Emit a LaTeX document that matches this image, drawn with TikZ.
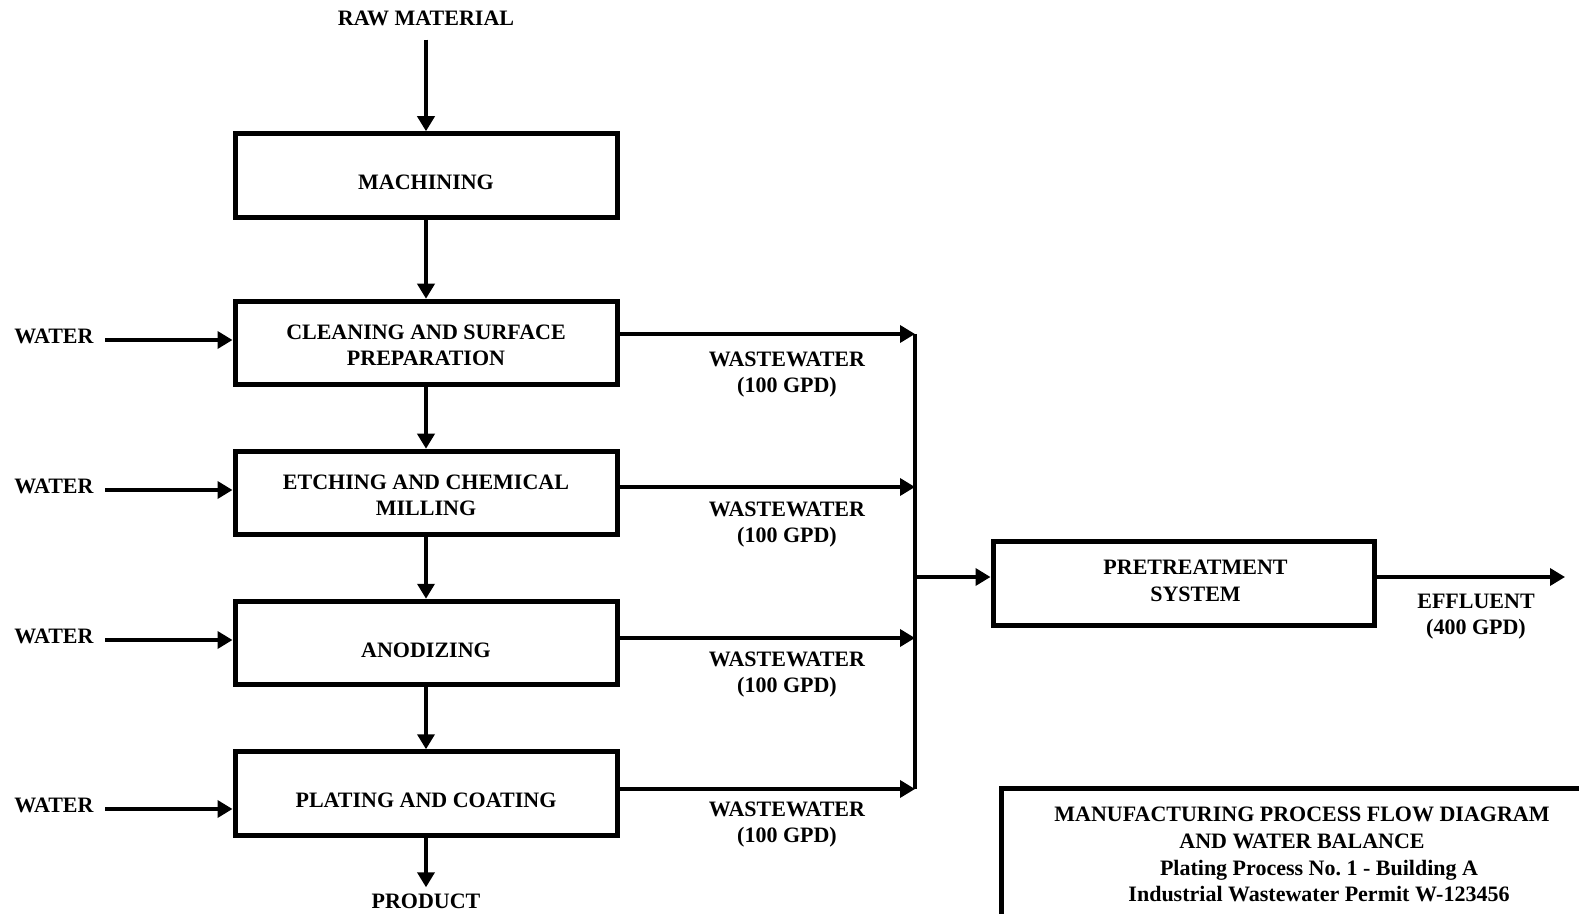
\documentclass[tikz,border=0pt]{standalone}
\usepackage{fontspec}
\setmainfont{Liberation Serif}
\usetikzlibrary{arrows.meta,calc}
\begin{document}
\begin{tikzpicture}[x=0.5pt,y=-0.5pt,
  txt/.style={font=\bfseries\fontsize{11pt}{13.25pt}\selectfont},
  lbl/.style={txt, inner sep=0pt, align=center, text height=7.3pt, text depth=0pt},
  lbl2/.style={lbl, text height=20.55pt, text depth=0pt},
  procbox/.style={txt, draw, line width=2.5pt, minimum width=191pt, minimum height=41.75pt,
    inner sep=0pt, align=center, text height=14.3pt, text depth=0pt},
  procbox2/.style={procbox, text height=22.55pt, text depth=0pt},
  flow/.style={line width=1.8pt, -{Triangle[length=7.5pt,width=8.5pt]}},
  pipe/.style={line width=1.8pt},
]
\useasboundingbox (0,0) rectangle (1579,914);

% main process column
\node[lbl] (raw) at (426,18) {RAW MATERIAL};
\node[procbox] (mach) at (426,175.5) {MACHINING};
\node[procbox2] (clean) at (426,343) {CLEANING AND SURFACE\\PREPARATION};
\node[procbox2] (etch) at (426,493) {ETCHING AND CHEMICAL\\MILLING};
\node[procbox] (anod) at (426,643) {ANODIZING};
\node[procbox] (plat) at (426,793.5) {PLATING AND COATING};
\node[lbl] (prod) at (426,901) {PRODUCT};

\draw[flow] ([yshift=-7pt]raw.south) -- (mach.north);
\draw[flow] (mach) -- (clean);
\draw[flow] (clean) -- (etch);
\draw[flow] (etch) -- (anod);
\draw[flow] (anod) -- (plat);
\draw[flow] (plat.south) -- ([yshift=3pt]prod.north);

% water inputs
\node[lbl] (w1) at (54,336) {WATER};
\node[lbl] (w2) at (54,486) {WATER};
\node[lbl] (w3) at (54,636) {WATER};
\node[lbl] (w4) at (54,805) {WATER};
\coordinate (wa1) at (105,340);
\coordinate (wa2) at (105,490);
\coordinate (wa3) at (105,640);
\coordinate (wa4) at (105,809);
\draw[flow] (wa1) -- (wa1 -| clean.west);
\draw[flow] (wa2) -- (wa2 -| etch.west);
\draw[flow] (wa3) -- (wa3 -| anod.west);
\draw[flow] (wa4) -- (wa4 -| plat.west);

% wastewater outputs
\coordinate (j1) at (915,334);
\coordinate (j2) at (915,487);
\coordinate (j3) at (915,638);
\coordinate (j4) at (915,789);
\draw[flow] (j1 -| clean.east) -- (j1);
\draw[flow] (j2 -| etch.east) -- (j2);
\draw[flow] (j3 -| anod.east) -- (j3);
\draw[flow] (j4 -| plat.east) -- (j4);
\draw[pipe] (j1) -- (j4);

\node[lbl2] (ww1) at (787,372) {WASTEWATER\\(100 GPD)};
\node[lbl2] (ww2) at (787,522) {WASTEWATER\\(100 GPD)};
\node[lbl2] (ww3) at (787,672) {WASTEWATER\\(100 GPD)};
\node[lbl2] (ww4) at (787,822) {WASTEWATER\\(100 GPD)};

% pretreatment
\node[procbox, minimum width=190.5pt] (pre) at (1183.5,583.5) {};
\node[lbl2] (pretxt) at (1195.5,580.5) {PRETREATMENT\\SYSTEM};
\coordinate (jm) at (915,577);
\coordinate (eff) at (1565,577);
\draw[flow] (jm) -- (jm -| pre.west);
\draw[flow] (jm -| pre.east) -- (eff);
\node[lbl2] (efl) at (1476,614) {EFFLUENT\\(400 GPD)};

% title block
\node[draw, line width=2.5pt, anchor=north west, minimum width=400pt, minimum height=100pt] (tbox) at (999,786) {};
\node[lbl2] (t1) at (1302,827.5) {MANUFACTURING PROCESS FLOW DIAGRAM\\AND WATER BALANCE};
\node[lbl2] (t2) at (1319,881) {Plating Process No.~1 - Building A\\Industrial Wastewater Permit W-123456};
\end{tikzpicture}
\end{document}
